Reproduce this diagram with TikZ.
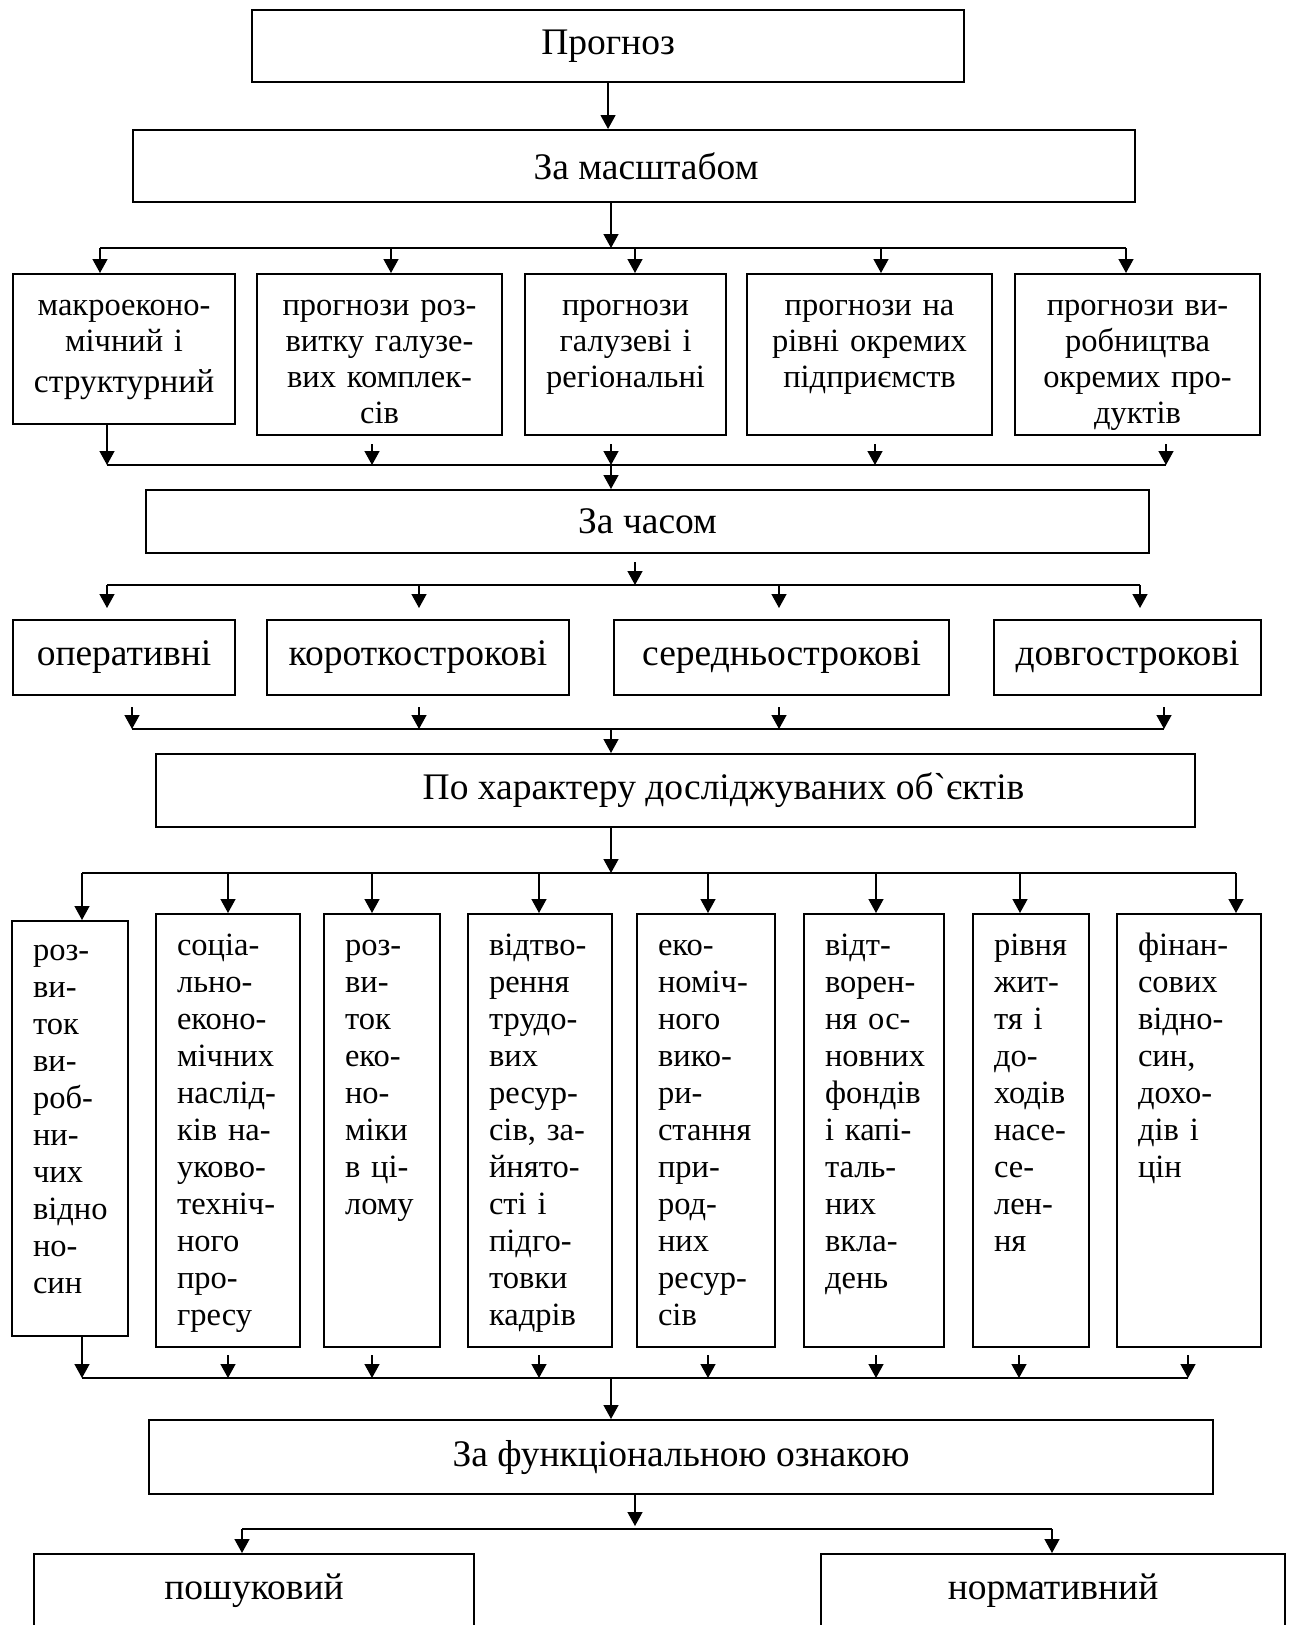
\documentclass[tikz,border=0pt]{standalone}
\usepackage{fontspec}
\setmainfont{Liberation Serif}
\usetikzlibrary{arrows.meta}

\newcommand\colnobreak{\exhyphenpenalty=10000\relax\hyphenpenalty=10000\relax}

\tikzset{
  lblbox/.style={draw, line width=2.1pt, inner sep=0pt, anchor=north west,
    font=\fontsize{37.5}{40}\selectfont},
  rowbox/.style={lblbox, align=center, text height=41pt, text depth=120pt,
    font=\fontsize{32.5}{36}\selectfont},
  colbox/.style={lblbox, align=left, inner xsep=21pt, text height=41pt, text depth=392pt,
    font=\fontsize{32.5}{37}\selectfont\colnobreak},
  arr/.style={line width=1.4pt, -{Triangle[length=14pt,width=15pt]}},
  bus/.style={line width=2.2pt}
}

\begin{document}
\begin{tikzpicture}[x=1pt, y=-1pt]
  \useasboundingbox (0,0) rectangle (1289,1625);

  % headings
  \node[lblbox, minimum width=712pt, minimum height=72pt] (progn) at (251,9) {Прогноз};
  \node[lblbox, minimum width=1002pt, minimum height=72pt] (masht) at (132,129) {\hspace*{24pt}За масштабом};
  \node[lblbox, minimum width=1003pt, minimum height=63pt] (chas) at (145,489) {За часом};
  \node[lblbox, minimum width=1039pt, minimum height=73pt] (har) at (155,753) {\hspace*{96pt}По характеру досліджуваних об\textasciigrave єктів};
  \node[lblbox, minimum width=1064pt, minimum height=74pt] (func) at (148,1419) {За функціональною ознакою};

  % by scale
  \node[rowbox, text width=222pt, text depth=109pt] (m1) at (12,273) {макроеконо-\\мічний і\\[5pt]{\fontsize{33.5}{36}\selectfont структурний}};
  \node[rowbox, text width=245pt] (m2) at (256,273) {прогнози роз-\\витку галузе-\\вих комплек-\\сів};
  \node[rowbox, text width=201pt] (m3) at (524,273) {прогнози\\галузеві і\\регіональні};
  \node[rowbox, text width=245pt] (m4) at (746,273) {прогнози на\\рівні окремих\\підприємств};
  \node[rowbox, text width=245pt] (m5) at (1014,273) {прогнози ви-\\робництва\\окремих про-\\дуктів};

  % by time
  \node[lblbox, minimum width=222pt, minimum height=75pt] (o1) at (12,619) {оперативні};
  \node[lblbox, minimum width=302pt, minimum height=75pt] (o2) at (266,619) {короткострокові};
  \node[lblbox, minimum width=335pt, minimum height=75pt] (o3) at (613,619) {середньострокові};
  \node[lblbox, minimum width=267pt, minimum height=75pt] (o4) at (993,619) {довгострокові};

  % by objects
  \node[colbox, text width=74pt, text height=39pt, text depth=376pt] (r1) at (11,920)
    {роз-\\ви-\\ток\\ви-\\роб-\\ни-\\чих\\відно\\но-\\син};
  \node[colbox, text width=102pt] (r2) at (155,913)
    {соціа-\\льно-\\еконо-\\мічних\\наслід-\\ків~на-\\уково-\\техніч-\\ного\\про-\\гресу};
  \node[colbox, text width=74pt] (r3) at (323,913)
    {роз-\\ви-\\ток\\еко-\\но-\\міки\\в~ці-\\лому};
  \node[colbox, text width=102pt] (r4) at (467,913)
    {відтво-\\рення\\трудо-\\вих\\ресур-\\сів,~за-\\йнято-\\сті~і\\підго-\\товки\\кадрів};
  \node[colbox, text width=96pt] (r5) at (636,913)
    {еко-\\номіч-\\ного\\вико-\\ри-\\стання\\при-\\род-\\них\\ресур-\\сів};
  \node[colbox, text width=98pt] (r6) at (803,913)
    {відт-\\ворен-\\ня~ос-\\новних\\фондів\\і~капі-\\таль-\\них\\вкла-\\день};
  \node[colbox, text width=74pt] (r7) at (972,913)
    {рівня\\жит-\\тя~і\\до-\\ходів\\насе-\\се-\\лен-\\ня};
  \node[colbox, text width=102pt] (r8) at (1116,913)
    {фінан-\\сових\\відно-\\син,\\дохо-\\дів~і\\цін};

  % by function
  \node[lblbox, minimum width=440pt, text height=45pt, text depth=60pt] (p1) at (33,1553) {пошуковий};
  \node[lblbox, minimum width=464pt, text height=45pt, text depth=60pt] (p2) at (820,1553) {нормативний};

  % connectors
  \draw[arr] (progn.south) -- (progn.south |- masht.north);
  \draw[arr] (masht.south -| 611,0) -- (611,248);
  \draw[bus] (100,248) -- (1126,248);
  \foreach \n/\x in {m1/100, m2/391, m3/635, m4/881, m5/1126}
    \draw[arr] (\x,248) -- (\x,0 |- \n.north);

  \draw[arr] (m1.south -| 107,0) -- (107,465);
  \foreach \n/\x in {m2/372, m3/611, m4/875, m5/1166}
    \draw[arr, shorten <=8pt] (\n.south -| \x,0) -- (\x,465);
  \draw[bus] (107,465) -- (1166,465);
  \draw[arr] (611,465) -- (611,0 |- chas.north);

  \draw[arr, shorten <=8pt] (chas.south -| 635,0) -- (635,585);
  \draw[bus] (107,585) -- (1140,585);
  \foreach \n/\x in {o1/107, o2/419, o3/779, o4/1140}
    \draw[arr, shorten >=11pt] (\x,585) -- (\x,0 |- \n.north);
  \foreach \n/\x in {o1/132, o2/419, o3/779, o4/1164}
    \draw[arr, shorten <=11pt] (\n.south -| \x,0) -- (\x,729);
  \draw[bus] (132,729) -- (1164,729);
  \draw[arr] (611,729) -- (611,0 |- har.north);

  \draw[arr] (har.south -| 611,0) -- (611,873);
  \draw[bus] (82,873) -- (1236,873);
  \foreach \n/\x in {r1/82, r2/228, r3/372, r4/539, r5/708, r6/876, r7/1020, r8/1236}
    \draw[arr] (\x,873) -- (\x,0 |- \n.north);
  \draw[arr] (r1.south -| 82,0) -- (82,1378);
  \foreach \n/\x in {r2/228, r3/372, r4/539, r5/708, r6/876, r7/1019, r8/1188}
    \draw[arr, shorten <=7pt] (\n.south -| \x,0) -- (\x,1378);
  \draw[bus] (82,1378) -- (1188,1378);
  \draw[arr] (611,1378) -- (611,0 |- func.north);

  \draw[arr] (func.south -| 635,0) -- (635,1526);
  \draw[bus] (242,1529) -- (1052,1529);
  \draw[arr] (242,1529) -- (242,0 |- p1.north);
  \draw[arr] (1052,1529) -- (1052,0 |- p2.north);
\end{tikzpicture}
\end{document}
